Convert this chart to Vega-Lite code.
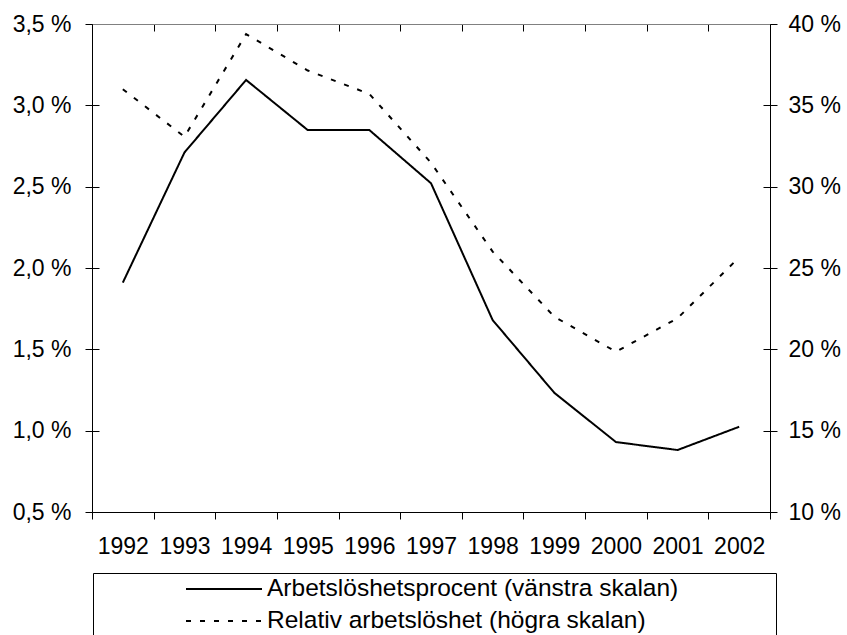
{
  "$schema": "https://vega.github.io/schema/vega-lite/v6.json",
  "width": 678,
  "height": 488,
  "autosize": {"type": "none"},
  "padding": {"left": 92, "top": 24, "right": 77, "bottom": 123},
  "background": "white",
  "config": {
    "view": {"stroke": null},
    "font": "Liberation Sans",
    "axis": {"labelFont": "Liberation Sans", "labelColor": "black", "labelFontSize": 23},
    "legend": {"labelFont": "Liberation Sans", "labelColor": "black", "labelFontSize": 24.5}
  },
  "data": {
    "values": [
      {"year": "1992", "serie": "Arbetslöshetsprocent (vänstra skalan)", "value": 1.91},
      {"year": "1993", "serie": "Arbetslöshetsprocent (vänstra skalan)", "value": 2.71},
      {"year": "1994", "serie": "Arbetslöshetsprocent (vänstra skalan)", "value": 3.156},
      {"year": "1995", "serie": "Arbetslöshetsprocent (vänstra skalan)", "value": 2.848},
      {"year": "1996", "serie": "Arbetslöshetsprocent (vänstra skalan)", "value": 2.848},
      {"year": "1997", "serie": "Arbetslöshetsprocent (vänstra skalan)", "value": 2.521},
      {"year": "1998", "serie": "Arbetslöshetsprocent (vänstra skalan)", "value": 1.68},
      {"year": "1999", "serie": "Arbetslöshetsprocent (vänstra skalan)", "value": 1.233},
      {"year": "2000", "serie": "Arbetslöshetsprocent (vänstra skalan)", "value": 0.93},
      {"year": "2001", "serie": "Arbetslöshetsprocent (vänstra skalan)", "value": 0.881},
      {"year": "2002", "serie": "Arbetslöshetsprocent (vänstra skalan)", "value": 1.024},
      {"year": "1992", "serie": "Relativ arbetslöshet (högra skalan)", "value": 35.99},
      {"year": "1993", "serie": "Relativ arbetslöshet (högra skalan)", "value": 33.07},
      {"year": "1994", "serie": "Relativ arbetslöshet (högra skalan)", "value": 39.38},
      {"year": "1995", "serie": "Relativ arbetslöshet (högra skalan)", "value": 37.14},
      {"year": "1996", "serie": "Relativ arbetslöshet (högra skalan)", "value": 35.7},
      {"year": "1997", "serie": "Relativ arbetslöshet (högra skalan)", "value": 31.47},
      {"year": "1998", "serie": "Relativ arbetslöshet (högra skalan)", "value": 26.01},
      {"year": "1999", "serie": "Relativ arbetslöshet (högra skalan)", "value": 22.01},
      {"year": "2000", "serie": "Relativ arbetslöshet (högra skalan)", "value": 19.85},
      {"year": "2001", "serie": "Relativ arbetslöshet (högra skalan)", "value": 21.91},
      {"year": "2002", "serie": "Relativ arbetslöshet (högra skalan)", "value": 25.66}
    ]
  },
  "layer": [
    {
      "transform": [{"filter": "datum.serie === 'Arbetslöshetsprocent (vänstra skalan)'"}],
      "mark": {"type": "line", "color": "black", "strokeWidth": 2},
      "encoding": {
        "x": {
          "field": "year", "type": "ordinal",
          "scale": {"type": "band", "paddingInner": 0, "paddingOuter": 0},
          "axis": {
            "orient": "bottom", "title": null, "labelAngle": 0, "labelOverlap": false,
            "tickBand": "extent", "tickSize": 7, "tickColor": "black", "domainColor": "black",
            "labelPadding": 16, "grid": true, "gridColor": "black", "gridDash": [7, 2000]
          }
        },
        "y": {
          "field": "value", "type": "quantitative",
          "scale": {"domain": [0.5, 3.5], "nice": false, "zero": false},
          "axis": {
            "orient": "left", "title": null, "values": [0.5, 1, 1.5, 2, 2.5, 3, 3.5],
            "labelExpr": "replace(format(datum.value, '.1f'), '.', ',') + ' %'",
            "tickSize": 7, "tickColor": "black", "domainColor": "black", "labelPadding": 14,
            "grid": true, "gridColor": "black", "gridDash": [7, 2000]
          }
        },
        "strokeDash": {
          "field": "serie", "type": "nominal",
          "scale": {"domain": ["Arbetslöshetsprocent (vänstra skalan)", "Relativ arbetslöshet (högra skalan)"], "range": [[1, 0], [5, 9]]},
          "legend": {
            "title": null, "orient": "none", "legendX": 1, "legendY": 549,
            "strokeColor": "black", "padding": 0, "clipHeight": 32, "rowPadding": 0,
            "symbolType": "stroke", "symbolSize": 5776, "symbolStrokeWidth": 2, "symbolStrokeColor": "black",
            "symbolOffset": 92, "labelOffset": 4, "labelLimit": 1000,
            "encode": {"entries": {"update": {"width": {"value": 683}}}}
          }
        }
      }
    },
    {
      "transform": [{"filter": "datum.serie === 'Relativ arbetslöshet (högra skalan)'"}],
      "mark": {"type": "line", "color": "black", "strokeWidth": 2},
      "encoding": {
        "x": {
          "field": "year", "type": "ordinal",
          "scale": {"type": "band", "paddingInner": 0, "paddingOuter": 0},
          "axis": {
            "orient": "top", "title": null, "labels": false, "ticks": false, "grid": false,
            "domainColor": "#808080"
          }
        },
        "y": {
          "field": "value", "type": "quantitative",
          "scale": {"domain": [10, 40], "nice": false, "zero": false},
          "axis": {
            "orient": "right", "title": null, "values": [10, 15, 20, 25, 30, 35, 40],
            "labelExpr": "format(datum.value, '.0f') + ' %'",
            "tickSize": 7, "tickColor": "black", "domainColor": "black", "labelPadding": 11,
            "grid": true, "gridColor": "black", "gridDash": [7, 2000]
          }
        },
        "strokeDash": {
          "field": "serie", "type": "nominal",
          "scale": {"domain": ["Arbetslöshetsprocent (vänstra skalan)", "Relativ arbetslöshet (högra skalan)"], "range": [[1, 0], [5, 9]]},
          "legend": {
            "title": null, "orient": "none", "legendX": 1, "legendY": 549,
            "strokeColor": "black", "padding": 0, "clipHeight": 32, "rowPadding": 0,
            "symbolType": "stroke", "symbolSize": 5776, "symbolStrokeWidth": 2, "symbolStrokeColor": "black",
            "symbolOffset": 92, "labelOffset": 4, "labelLimit": 1000,
            "encode": {"entries": {"update": {"width": {"value": 683}}}}
          }
        }
      }
    }
  ],
  "resolve": {"scale": {"y": "independent"}}
}
